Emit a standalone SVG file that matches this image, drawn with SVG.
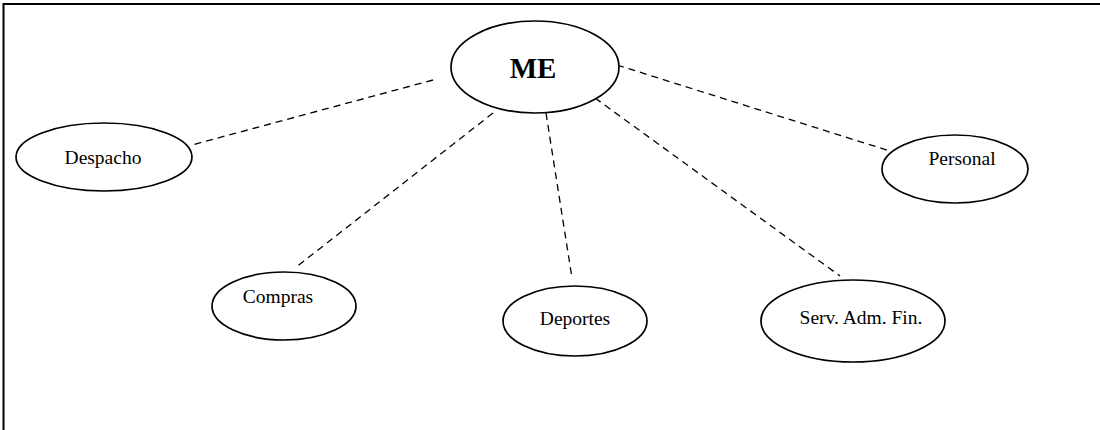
<svg xmlns="http://www.w3.org/2000/svg" width="1100" height="430" viewBox="0 0 1100 430">
<style>
.node ellipse{fill:#fff;stroke:#000;stroke-width:1.7}
.lbl{font-family:"Liberation Serif","Times New Roman",serif;font-size:19.5px;fill:#000;text-anchor:middle}
.big{font-size:29px;font-weight:bold}
.conn line{stroke:#000;stroke-width:1.3;stroke-dasharray:7 5;fill:none}
</style>
<rect width="1100" height="430" fill="#fff"/>
<path d="M3.5,430 V4 H1100" fill="none" stroke="#000" stroke-width="2"/>
<g id="connectors" class="conn">
<line x1="433" y1="80" x2="192" y2="145"/>
<line x1="617" y1="65" x2="893" y2="152"/>
<line x1="493" y1="113" x2="295" y2="268"/>
<line x1="546" y1="113" x2="572" y2="278"/>
<line x1="595" y1="98" x2="840" y2="276"/>
</g>
<g id="ME" class="node"><ellipse cx="535" cy="67" rx="84" ry="46"/><text class="lbl big" x="533" y="78">ME</text></g>
<g id="Despacho" class="node"><ellipse cx="104" cy="157" rx="88" ry="34"/><text class="lbl" x="103" y="164">Despacho</text></g>
<g id="Personal" class="node"><ellipse cx="955" cy="169" rx="73" ry="34"/><text class="lbl" x="962" y="165">Personal</text></g>
<g id="Compras" class="node"><ellipse cx="284" cy="306" rx="72" ry="34"/><text class="lbl" x="278" y="303">Compras</text></g>
<g id="Deportes" class="node"><ellipse cx="575" cy="321" rx="72" ry="35"/><text class="lbl" x="575" y="325">Deportes</text></g>
<g id="ServAdmFin" class="node"><ellipse cx="853" cy="321" rx="92" ry="41"/><text class="lbl" x="861" y="324">Serv. Adm. Fin.</text></g>
</svg>
